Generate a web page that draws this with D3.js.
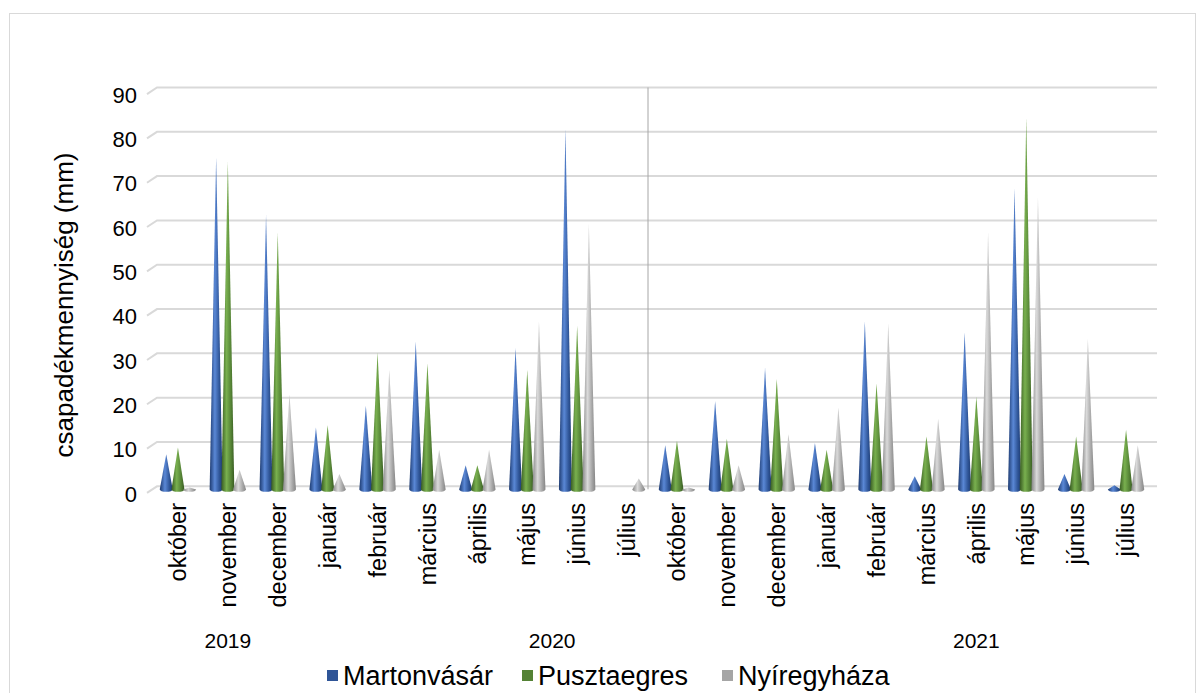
<!DOCTYPE html>
<html><head><meta charset="utf-8">
<script src="https://cdn.jsdelivr.net/npm/d3@7"></script>
<style>body{margin:0;background:#fff;} text{font-family:"Liberation Sans",Arial,sans-serif;fill:#000;}</style>
</head><body>
<svg id="chart" width="1196" height="693"></svg>
<script>
const months = ["október","november","december","január","február","március","április","május","június","július",
                "október","november","december","január","február","március","április","május","június","július"];
const years = ["2019","2020","2021"];
const yearStart = [0,3,13];
const yearEnd = [2,12,19];
const seriesNames = ["Martonvásár","Pusztaegres","Nyíregyháza"];
const martonvasar = [8,75,62,14,19,33.5,5.5,32,81.5,0, 10,20,27.5,10.5,38,3,35.5,68,3.5,1];
const pusztaegres = [9.5,74,58,14.5,31,28.5,5.5,27,37,0, 11,11.5,25,9,24,12,21,84,12,13.5];
const nyiregyhaza = [0.5,4.5,21.5,3.5,27,9,9,38,60,2.5, 0.5,5.5,12.5,18.5,37.5,16,58,66,34,10];
const yTicks = [0,10,20,30,40,50,60,70,80,90];

const colors = [
  {base:"#2F5597", dark:"#1d3a70", light:"#5a88d6"},
  {base:"#548235", dark:"#375a21", light:"#79b04f"},
  {base:"#A5A5A5", dark:"#858585", light:"#dadada"}
];
const seriesData = [martonvasar, pusztaegres, nyiregyhaza];

const svg = d3.select("#chart");
const defs = svg.append("defs");
colors.forEach((c,i)=>{
  const g = defs.append("linearGradient").attr("id","g"+i).attr("x1","0").attr("x2","1").attr("y1","0").attr("y2","0");
  g.append("stop").attr("offset","0").attr("stop-color",c.dark);
  g.append("stop").attr("offset","0.4").attr("stop-color",c.light);
  g.append("stop").attr("offset","0.75").attr("stop-color",c.base);
  g.append("stop").attr("offset","1").attr("stop-color",c.dark);
});

// frame
svg.append("rect").attr("x",9.5).attr("y",13.5).attr("width",1186).attr("height",700)
  .attr("fill","none").attr("stroke","#d9d9d9").attr("stroke-width",1);

const y = d3.scaleLinear().domain([0,90]).range([486.3,87.5]);
const x = d3.scaleBand().domain(d3.range(months.length)).range([153,1151]);
const xs = d3.scalePoint().domain(d3.range(3)).range([0,x.bandwidth()]).padding(1.13);
const depth = 3.3; // mid-depth offset
const coneW = 13;

// gridlines
const grid = svg.append("g");
yTicks.forEach(t=>{
  const yy = y(t);
  grid.append("path").attr("d",`M147,${yy+6.6}L157,${yy}L1157,${yy}`)
    .attr("fill","none").attr("stroke","#d9d9d9").attr("stroke-width",2);
  svg.append("text").attr("x",137).attr("y",yy+7.5).attr("dy","0.35em")
    .attr("text-anchor","end").style("font-size","22px").text(t);
});

// separator
svg.append("line").attr("x1",x(10)-4).attr("x2",x(10)-4).attr("y1",y(90)).attr("y2",y(0)+3)
  .attr("stroke","#a6a6a6").attr("stroke-width",1);

// cones
const cones = svg.append("g");
months.forEach((m,i)=>{
  seriesData.forEach((s,si)=>{
    const v = s[i];
    if (v <= 0) return;
    const cx = x(i) + xs(si);
    const by = y(0) + depth;
    const ty = y(v) + depth;
    const l = cx - coneW/2, r = cx + coneW/2;
    cones.append("path")
      .attr("d",`M${l},${by}L${cx},${ty}L${r},${by}A${coneW/2},2.2 0 0 1 ${l},${by}Z`)
      .attr("fill",`url(#g${si})`);
  });
});

// category labels
months.forEach((m,i)=>{
  const cx = x(i) + x.bandwidth()/2;
  svg.append("text").attr("transform",`translate(${cx},503) rotate(-90)`)
    .attr("text-anchor","end").attr("dy","0.35em").style("font-size","23.5px").text(m);
});

// year labels
years.forEach((yr,i)=>{
  const cx = (x(yearStart[i]) + x(yearEnd[i]) + x.bandwidth())/2;
  svg.append("text").attr("x",cx).attr("y",648).attr("text-anchor","middle")
    .style("font-size","21px").text(yr);
});

// y title
svg.append("text").attr("transform","translate(64,305) rotate(-90)").attr("text-anchor","middle")
  .attr("dy","0.35em").style("font-size","26px").text("csapadékmennyiség (mm)");

// legend
const legX = [327,522,722];
seriesNames.forEach((n,i)=>{
  svg.append("rect").attr("x",legX[i]).attr("y",670).attr("width",11).attr("height",11).attr("fill",colors[i].base);
  svg.append("text").attr("x",legX[i]+16).attr("y",676).attr("dy","0.35em").style("font-size","27px").text(n);
});
</script>
</body></html>
